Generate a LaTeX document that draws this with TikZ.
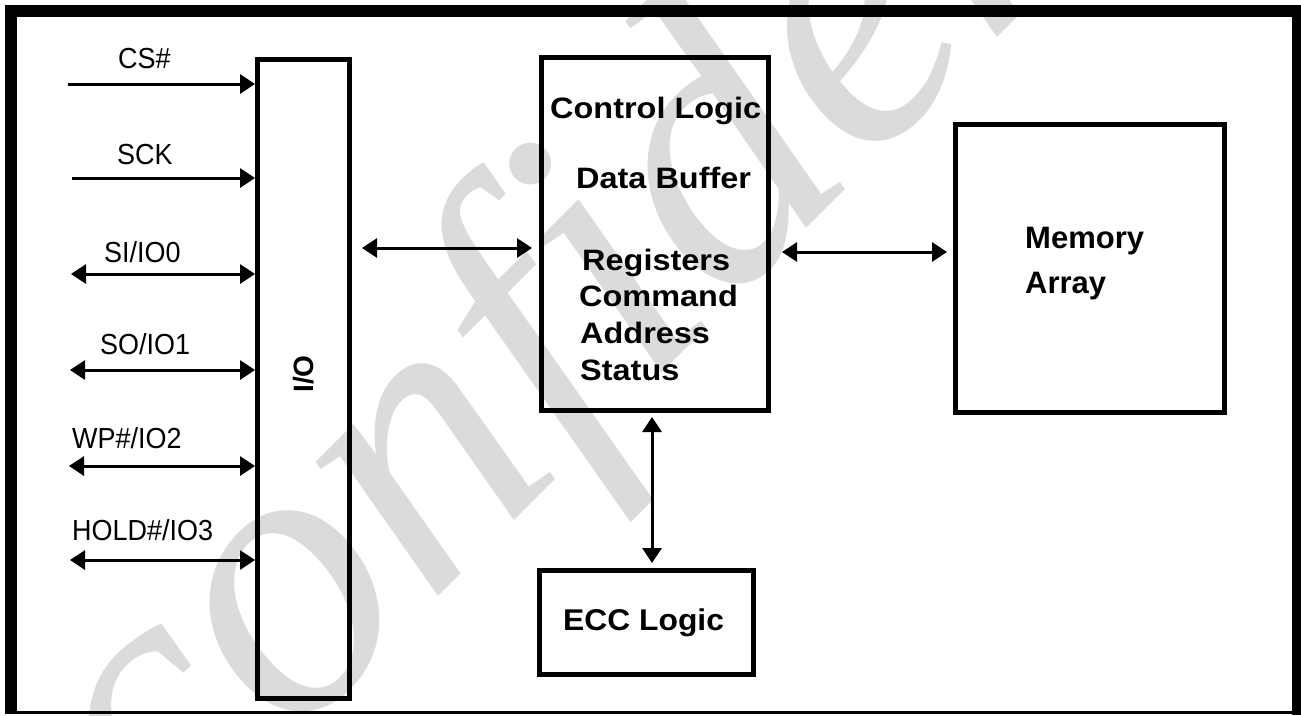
\documentclass[tikz,border=0pt]{standalone}
\usepackage{fontspec}
\setmainfont{Liberation Sans}
\newfontfamily\pinfont[FakeStretch=0.93]{Liberation Sans}
\newfontfamily\blockfont[FakeStretch=1.1]{Liberation Sans}
\newfontfamily\eccfont[FakeStretch=1.06]{Liberation Sans}
\newfontfamily\markfont{Liberation Serif}
\usetikzlibrary{arrows.meta}

\begin{document}
\begin{tikzpicture}[x=1pt,y=-1pt,
  box/.style={draw, line width=5pt, inner sep=0pt},
  bustip/.tip={Triangle[length=15pt,width=19pt]},
  sig/.style={line width=3pt, -bustip},
  bidir/.style={line width=3pt, bustip-bustip},
  pin/.style={font=\pinfont\fontsize{29}{29}\selectfont, anchor=base west, inner sep=0pt},
  blk/.style={font=\blockfont\bfseries\fontsize{29.5}{29.5}\selectfont, anchor=base west, inner sep=0pt},
  memtxt/.style={font=\bfseries\fontsize{31}{31}\selectfont, anchor=base west, inner sep=0pt},
  ecctxt/.style={font=\eccfont\bfseries\fontsize{30}{30}\selectfont, anchor=base west, inner sep=0pt},
  wmark/.style={font=\markfont\itshape\fontsize{395}{395}\selectfont, text=black!14, inner sep=0pt}
]
\useasboundingbox (0,0) rectangle (1301,715);

% watermark behind the drawing
\begin{scope}
  \clip (0,0) rectangle (1301,715);
  \node[wmark, rotate=45, anchor=base west] (wm) at (165,870) {confidential};
\end{scope}

% outer frame
\fill (5,5) rectangle (1301,17);
\fill (5,5) rectangle (17,713);
\fill (1292,5) rectangle (1301,715);
\fill (5,711) rectangle (1301,714);

% blocks
\node[box, minimum width=92pt, minimum height=639pt] (io) at (303.5,379) {};
\node[box, minimum width=227pt, minimum height=353pt] (ctrl) at (655,234) {};
\node[box, minimum width=214pt, minimum height=104pt] (ecc) at (646.5,622.5) {};
\node[box, minimum width=269pt, minimum height=288pt] (mem) at (1090,268.5) {};

% block texts
\node[font=\bfseries\fontsize{28}{28}\selectfont, rotate=90, inner sep=0pt] (iol) at (303.5,374) {I/O};
\node[blk] (t1) at (550,118) {Control Logic};
\node[blk] (t2) at (576,188) {Data Buffer};
\node[blk] (t3) at (582,270) {Registers};
\node[blk] (t4) at (579,306) {Command};
\node[blk] (t5) at (580,343) {Address};
\node[blk] (t6) at (580,380) {Status};
\node[memtxt] (m1) at (1025,248) {Memory};
\node[memtxt] (m2) at (1025,293) {Array};
\node[ecctxt] (e1) at (563,630) {ECC Logic};

% pin labels
\node[pin] (l1) at (118,68) {CS\#};
\node[pin] (l2) at (117,164) {SCK};
\node[pin] (l3) at (104,262) {SI/IO0};
\node[pin] (l4) at (100,354) {SO/IO1};
\node[pin] (l5) at (72,448) {WP\#/IO2};
\node[pin] (l6) at (72,540) {HOLD\#/IO3};

% pin signals
\coordinate (p1) at (68,84);
\coordinate (p2) at (72,178);
\coordinate (p3) at (71,274);
\coordinate (p4) at (70,370);
\coordinate (p5) at (69,466);
\coordinate (p6) at (70,560);
\draw[sig] (p1) -- (io.west |- p1);
\draw[sig] (p2) -- (io.west |- p2);
\draw[bidir] (p3) -- (io.west |- p3);
\draw[bidir] (p4) -- (io.west |- p4);
\draw[bidir] (p5) -- (io.west |- p5);
\draw[bidir] (p6) -- (io.west |- p6);

% internal buses
\coordinate (b1) at (0,248);
\coordinate (b2) at (0,252);
\coordinate (b3) at (652,0);
\draw[bidir, shorten <=10pt, shorten >=7pt] (io.east |- b1) -- (ctrl.west |- b1);
\draw[bidir, shorten <=11pt, shorten >=6pt] (ctrl.east |- b2) -- (mem.west |- b2);
\draw[bidir, shorten <=4pt, shorten >=5pt] (ctrl.south -| b3) -- (ecc.north -| b3);
\end{tikzpicture}
\end{document}
